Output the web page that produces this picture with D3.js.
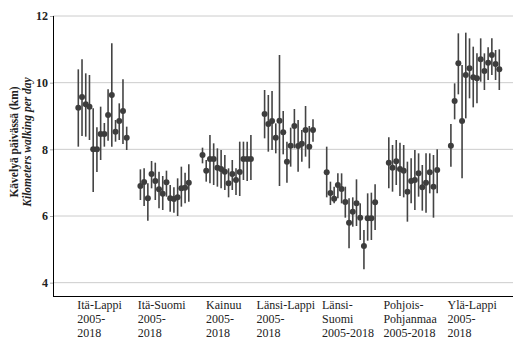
<!DOCTYPE html>
<meta charset="utf-8">
<style>
body { margin: 0; background: #fff; }
.grid line { stroke: #cccccc; stroke-width: 1; }
.bars line { stroke: #444; stroke-width: 1.6; }
.dots circle { fill: #3d3d3d; }
</style>
<svg width="513" height="341"></svg>
<script src="https://d3js.org/d3.v7.min.js"></script>
<script>

var regions = ["Itä-Lappi", "Itä-Suomi", "Kainuu", "Länsi-Lappi", "Länsi-Suomi", "Pohjois-Pohjanmaa", "Ylä-Lappi"];
var regionLabels = [
  ["Itä-Lappi", "2005-", "2018"],
  ["Itä-Suomi", "2005-", "2018"],
  ["Kainuu", "2005-", "2018"],
  ["Länsi-Lappi", "2005-", "2018"],
  ["Länsi-", "Suomi", "2005-2018"],
  ["Pohjois-", "Pohjanmaa", "2005-2018"],
  ["Ylä-Lappi", "2005-", "2018"]
];
var years = d3.range(2005, 2019);
var yTicks = [4, 6, 8, 10, 12];

// mean km per day, and lower / upper ends of the bars
var means = [
  [9.25, 9.57, 9.35, 9.28, 8.0, 8.0, 8.46, 8.46, 9.03, 9.63, 8.53, 8.85, 9.15, 8.35],
  [6.90, 7.02, 6.53, 7.26, 7.05, 6.80, 6.67, 7.01, 6.53, 6.51, 6.56, 6.83, 6.85, 7.00],
  [7.83, 7.36, 7.71, 7.71, 7.45, 7.41, 7.33, 6.98, 7.26, 7.08, 7.32, 7.71, 7.71, 7.71],
  [9.06, 8.76, 8.85, 8.35, 8.86, 8.51, 7.63, 8.11, 8.70, 8.10, 8.17, 8.58, 8.08, 8.58],
  [7.31, 6.69, 6.52, 6.93, 6.81, 6.42, 5.80, 6.13, 6.38, 5.95, 5.10, 5.93, 5.93, 6.41],
  [7.60, 7.45, 7.64, 7.41, 7.36, 6.73, 7.05, 7.08, 7.28, 6.86, 7.00, 7.31, 6.88, 7.38],
  [8.11, 9.45, 10.58, 8.85, 10.23, 10.43, 10.16, 10.13, 10.70, 10.35, 10.60, 10.83, 10.56, 10.40]
];
var lows = [
  [8.08, 8.4, 8.38, 8.28, 6.72, 7.32, 7.68, 8.08, 8.26, 8.08, 8.23, 8.28, 8.16, 7.98],
  [6.48, 6.30, 5.86, 6.83, 6.48, 6.23, 6.18, 6.58, 6.13, 6.10, 6.00, 6.28, 6.38, 6.43],
  [7.58, 7.03, 6.98, 6.93, 6.88, 6.83, 6.78, 6.56, 6.78, 6.63, 6.60, 7.08, 7.05, 7.08],
  [8.33, 7.93, 7.98, 7.88, 6.90, 7.85, 7.00, 7.48, 8.03, 7.33, 7.63, 7.78, 7.43, 8.23],
  [6.56, 6.33, 6.38, 6.53, 6.38, 5.95, 5.03, 5.68, 5.70, 5.28, 4.40, 5.26, 5.28, 5.58],
  [6.83, 6.73, 6.93, 6.60, 6.56, 5.83, 6.38, 6.18, 6.58, 6.16, 6.10, 6.68, 5.95, 6.68],
  [7.48, 8.90, 9.65, 7.13, 8.93, 9.53, 9.26, 9.38, 10.03, 9.78, 10.08, 10.23, 10.08, 9.78]
];
var highs = [
  [10.4, 10.7, 10.28, 10.23, 9.23, 8.66, 9.28, 8.79, 9.8, 11.18, 8.88, 9.38, 10.1, 8.68],
  [7.40, 7.43, 6.98, 7.65, 7.60, 7.33, 7.20, 7.36, 6.93, 6.86, 7.13, 7.48, 7.30, 7.55],
  [8.05, 7.68, 8.43, 8.18, 8.03, 7.98, 7.83, 7.43, 7.68, 7.43, 8.23, 8.23, 8.23, 8.43],
  [9.78, 9.63, 9.75, 8.78, 10.83, 9.15, 8.23, 8.65, 9.21, 8.88, 8.58, 9.30, 8.70, 8.90],
  [8.08, 7.03, 6.88, 7.28, 7.28, 6.88, 6.53, 6.56, 7.10, 6.38, 5.58, 6.68, 6.70, 6.95],
  [8.36, 8.13, 8.28, 8.20, 8.13, 7.63, 7.73, 7.98, 7.88, 7.53, 7.88, 7.88, 7.83, 8.00],
  [8.76, 9.98, 11.48, 10.53, 11.50, 11.33, 11.08, 10.88, 11.33, 10.88, 11.06, 11.33, 10.98, 11.00]
];

var SERIF = "'Liberation Serif', Tinos, 'Times New Roman', serif";

var svg = d3.select("svg"),
    width = +svg.attr("width"),
    height = +svg.attr("height");

var plotLeft = 53, plotTop = 16, plotBottom = 296;

var y = d3.scaleLinear().domain([3.6, 12]).range([plotBottom, plotTop]);
var xg = d3.scaleBand().domain(regions).range([76.5, 511.2]).padding(0);
var xi = d3.scalePoint().domain(years).range([1.8, 50.2]);

var rows = [];
regions.forEach(function(r, g) {
  years.forEach(function(yr, i) {
    rows.push({ region: r, year: yr, m: means[g][i], lo: lows[g][i], hi: highs[g][i] });
  });
});
function px(d) { return xg(d.region) + xi(d.year); }

// grid
svg.append("g").attr("class", "grid")
  .selectAll("line").data(yTicks).enter().append("line")
    .attr("x1", plotLeft).attr("x2", width)
    .attr("y1", function(d) { return y(d); })
    .attr("y2", function(d) { return y(d); });

// y axis
var ya = svg.append("g")
    .attr("transform", "translate(" + plotLeft + ",0)")
    .call(d3.axisLeft(y).tickValues(yTicks).tickSize(3).tickPadding(2));
ya.attr("font-family", null);
ya.select(".domain").attr("stroke", "#000").attr("d", "M0.5," + plotTop + "V" + plotBottom);
ya.selectAll(".tick line").attr("stroke", "#aaa");
ya.selectAll(".tick text")
    .style("font-family", SERIF)
    .attr("font-size", 12).attr("font-weight", "bold").attr("fill", "#222");

// x axis line
svg.append("line")
    .attr("x1", plotLeft).attr("x2", width)
    .attr("y1", plotBottom + 0.5).attr("y2", plotBottom + 0.5)
    .attr("stroke", "#000");

// error bars
svg.append("g").attr("class", "bars")
  .selectAll("line").data(rows).enter().append("line")
    .attr("x1", px).attr("x2", px)
    .attr("y1", function(d) { return y(d.lo); })
    .attr("y2", function(d) { return y(d.hi); });

// points
svg.append("g").attr("class", "dots")
  .selectAll("circle").data(rows).enter().append("circle")
    .attr("cx", px)
    .attr("cy", function(d) { return y(d.m); })
    .attr("r", 3);

// category labels (block centred under its group, lines left-aligned)
var lab = svg.append("g").selectAll("text").data(regions).enter().append("text")
    .style("font-family", SERIF)
    .attr("font-size", 12).attr("fill", "#222")
    .attr("y", 309);
lab.each(function(r, g) {
  var t = d3.select(this);
  regionLabels[g].forEach(function(s, k) {
    t.append("tspan").attr("dy", k === 0 ? 0 : 14).text(s);
  });
  var w = 0;
  t.selectAll("tspan").each(function() { w = Math.max(w, this.getComputedTextLength()); });
  var cx = xg(r) + xg.bandwidth() * 0.42 - 3;
  t.selectAll("tspan").attr("x", cx - w / 2);
});

// y title
var yt = svg.append("text")
    .attr("transform", "translate(18,142) rotate(-90)")
    .attr("text-anchor", "middle")
    .style("font-family", SERIF)
    .attr("font-size", 11.5).attr("font-weight", "bold").attr("fill", "#222");
yt.append("tspan").attr("x", 0).attr("dy", 0).text("Kävelyä päivässä (km)");
yt.append("tspan").attr("x", 0).attr("dy", 12.5).attr("font-style", "italic").text("Kilometers walking per day");

</script>
